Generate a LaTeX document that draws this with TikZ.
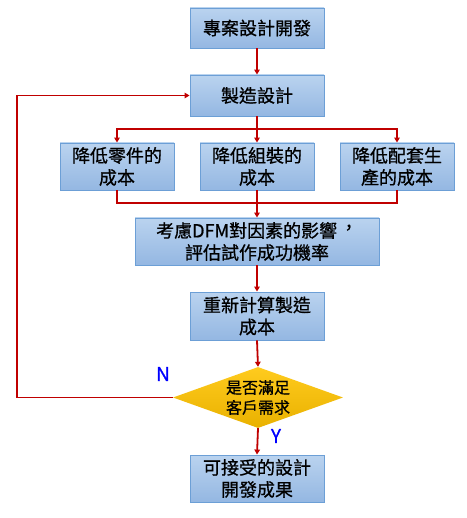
\documentclass[tikz,border=0pt]{standalone}
\usepackage{fontspec}
\setmainfont{Noto Sans CJK TC}[Script=CJK,Language=Chinese Traditional,FakeBold=0.8,AutoFakeBold=0.8]
\usetikzlibrary{arrows.meta,shapes.geometric,positioning}
\definecolor{boxtop}{HTML}{BAD3EF}
\definecolor{boxbot}{HTML}{94B7E2}
\definecolor{boxline}{HTML}{6C9FD6}
\definecolor{redline}{HTML}{C00000}
\definecolor{goldtop}{HTML}{FFCB1E}
\definecolor{goldbot}{HTML}{E9B100}
\newcommand{\midcomma}{\hspace{0.15em}\raisebox{0.18em}{，}\hspace{-0.15em}}
\begin{document}
\begin{tikzpicture}[x=1pt,y=-1pt,
  box/.style={draw=boxline,line width=0.9pt,top color=boxtop,bottom color=boxbot,
    inner sep=0pt,align=center,font=\fontsize{18}{22}\selectfont\bfseries},
  dec/.style={diamond,draw=none,top color=goldtop,bottom color=goldbot,
    inner sep=0pt,align=center,font=\fontsize{16}{20}\selectfont\bfseries},
  conn/.style={draw=redline,line width=1.8pt},
  arr/.style={conn,-{Triangle[width=5.5pt,length=5pt]}},
  lab/.style={text=blue,font=\fontsize{19}{19}\selectfont,inner sep=0pt}]
\useasboundingbox (0,0) rectangle (466,518);
\fill[white] (0,0) rectangle (466,518);
\node[box,minimum width=134pt,minimum height=40pt] (b1) at (257,28) {專案設計開發};
\node[box,minimum width=134pt,minimum height=41pt] (b2) at (257,95.5) {製造設計};
\node[box,minimum width=114pt,minimum height=47pt] (c1) at (117,166.5) {降低零件的\\成本};
\node[box,minimum width=114pt,minimum height=47pt] (c2) at (257,166.5) {降低組裝的\\成本};
\node[box,minimum width=114pt,minimum height=47pt] (c3) at (397,166.5) {降低配套生\\產的成本};
\node[box,minimum width=244pt,minimum height=47pt] (b4) at (257,241.5) {考慮DFM對因素的影響\midcomma\\評估試作成功機率};
\node[box,minimum width=134pt,minimum height=48pt] (b5) at (257,316) {重新計算製造\\成本};
\node[dec,minimum width=170pt,minimum height=61pt,aspect=2.8] (d) at (258,397.5) {是否滿足\\客戶需求};
\node[box,minimum width=134pt,minimum height=47pt] (b6) at (257,478.5) {可接受的設計\\開發成果};
\node[lab] (n) at (163,374) {N};
\node[lab] (y) at (276,436) {Y};
\coordinate (s1) at (257,129);
\coordinate (m1) at (257,203);
\coordinate (lp) at (17,397.5);
\draw[arr] (b1.south) -- (b2.north);
\draw[conn] (b2.south) -- (s1);
\draw[arr] (s1) -| (c1.north);
\draw[arr] (s1) -| (c3.north);
\draw[arr] (s1) -- (c2.north);
\draw[conn] (c1.south) |- (m1);
\draw[conn] (c3.south) |- (m1);
\draw[arr] (c2.south) -- (b4.north);
\draw[arr] (b4.south) -- (b5.north);
\draw[arr] (b5.south) -- (d.north);
\draw[arr] (d.south) -- (b6.north);
\draw[arr] (d.west) -- (lp) |- (b2.west);
\end{tikzpicture}
\end{document}
